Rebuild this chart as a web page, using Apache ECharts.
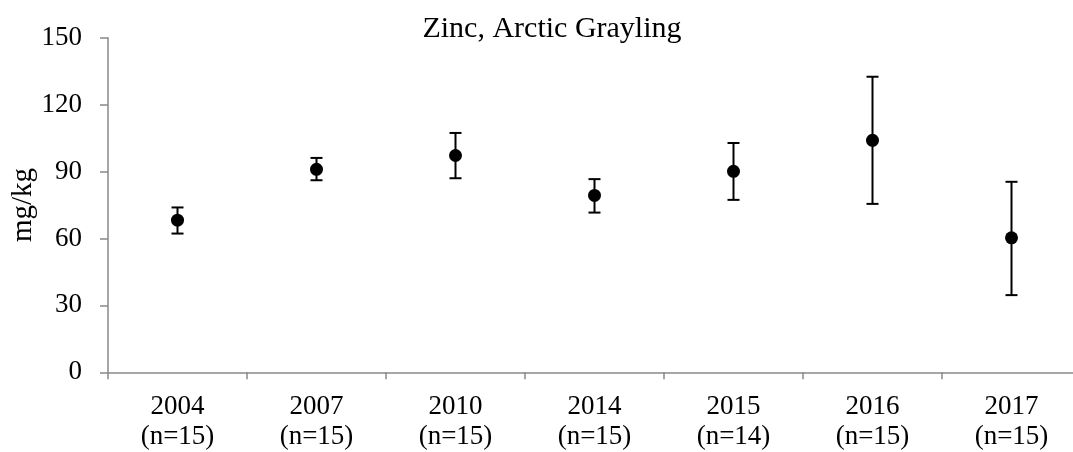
<!DOCTYPE html>
<html>
<head>
<meta charset="utf-8">
<script src="https://cdn.jsdelivr.net/npm/echarts@6/dist/echarts.min.js"></script>
<style>
html,body{margin:0;padding:0;background:#fff;}
#chart{width:1073px;height:452px;}
</style>
</head>
<body>
<div id="chart"></div>
<script>
const years = ['2004','2007','2010','2014','2015','2016','2017'];
const nValues = [15,15,15,15,14,15,15];
const means = [68.2, 91.0, 97.2, 79.3, 90.1, 104.0, 60.3];
const upper = [73.9, 96.1, 107.3, 86.6, 102.8, 132.5, 85.4];
const lower = [62.2, 86.1, 87.0, 71.6, 77.3, 75.5, 34.6];
const yTicks = [0, 30, 60, 90, 120, 150];

const categories = years.map((y, i) => y + '\n(n=' + nValues[i] + ')');
const errData = years.map((y, i) => [i, lower[i], upper[i]]);
const FONT = 'Liberation Serif';

const chart = echarts.init(document.getElementById('chart'));
chart.setOption({
  animation: false,
  backgroundColor: '#fff',
  title: {
    text: 'Zinc, Arctic Grayling',
    left: 547,
    top: 9,
    textAlign: 'center',
    textStyle: {fontFamily: FONT, fontSize: 30, fontWeight: 'normal', color: '#000'}
  },
  grid: {left: 108, right: -8, top: 37.7, bottom: 79.7, containLabel: false, outerBoundsMode: 'none'},
  xAxis: {
    type: 'category',
    data: categories,
    boundaryGap: true,
    axisLine: {lineStyle: {color: '#898989', width: 1.5}},
    axisTick: {show: true, length: 7, lineStyle: {color: '#898989', width: 1.5}},
    axisLabel: {fontFamily: FONT, fontSize: 27, color: '#000', margin: 20, lineHeight: 30, interval: 0}
  },
  yAxis: {
    type: 'value',
    min: yTicks[0],
    max: yTicks[yTicks.length - 1],
    interval: 30,
    name: 'mg/kg',
    nameLocation: 'middle',
    nameGap: 70,
    nameMoveOverlap: false,
    nameTextStyle: {fontFamily: FONT, fontSize: 29, color: '#000'},
    axisLine: {show: true, lineStyle: {color: '#898989', width: 1.5}},
    axisTick: {show: true, length: 8, lineStyle: {color: '#898989', width: 1.5}},
    splitLine: {show: false},
    axisLabel: {fontFamily: FONT, fontSize: 27, color: '#000', margin: 26}
  },
  series: [
    {
      type: 'custom',
      data: errData,
      z: 2,
      renderItem: function (params, api) {
        const x = api.value(0);
        const lo = api.coord([x, api.value(1)]);
        const hi = api.coord([x, api.value(2)]);
        const hw = 6;
        const st = {stroke: '#000', lineWidth: 2};
        return {
          type: 'group',
          children: [
            {type: 'line', shape: {x1: lo[0], y1: lo[1], x2: hi[0], y2: hi[1]}, style: st},
            {type: 'line', shape: {x1: lo[0] - hw, y1: lo[1], x2: lo[0] + hw, y2: lo[1]}, style: st},
            {type: 'line', shape: {x1: hi[0] - hw, y1: hi[1], x2: hi[0] + hw, y2: hi[1]}, style: st}
          ]
        };
      }
    },
    {
      type: 'scatter',
      data: means,
      symbol: 'circle',
      symbolSize: 13,
      z: 3,
      itemStyle: {color: '#000', opacity: 1}
    }
  ]
});
</script>
</body>
</html>
